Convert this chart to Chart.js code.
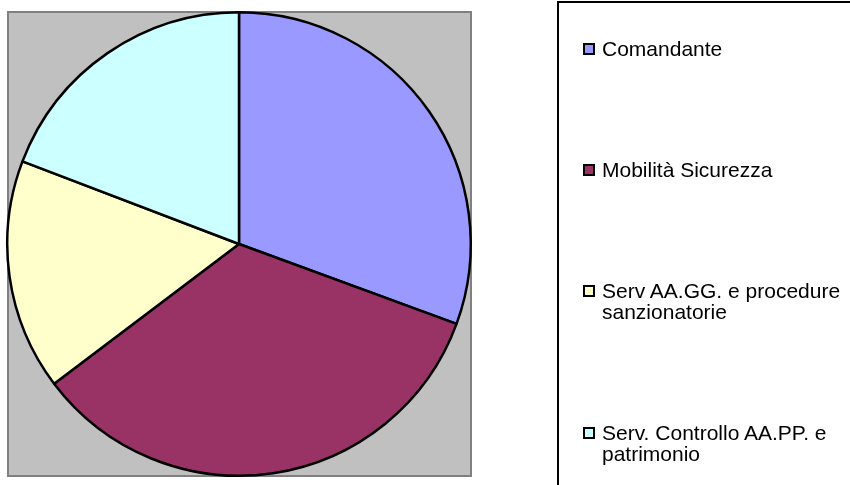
<!DOCTYPE html>
<html>
<head>
<meta charset="utf-8">
<script src="https://cdn.jsdelivr.net/npm/chart.js@4"></script>
<style>
  body { margin: 0; background: #fff; }
  #wrap { position: relative; width: 850px; height: 485px; overflow: hidden; }
  #pie { position: absolute; left: 0; top: 0; }
  #legend {
    position: absolute; left: 557px; top: 1px; width: 320px; height: 500px;
    border: 2px solid #000; box-sizing: border-box; padding-top: 35px;
    font-family: "Liberation Sans", Arial, sans-serif; font-size: 21px; color: #000;
  }
  .item { display: flex; align-items: flex-start; margin-left: 24px; margin-bottom: 100px; line-height: 21px; }
  .box { width: 8px; height: 8px; border: 2px solid #000; margin-top: 5px; margin-right: 7px; flex: none; }
  .txt { width: 245px; }
</style>
</head>
<body>
<div id="wrap">
  <canvas id="pie" width="850" height="485"></canvas>
  <div id="legend"></div>
</div>
<script>
  const categories = [
    "Comandante",
    "Mobilità Sicurezza",
    "Serv AA.GG. e procedure sanzionatorie",
    "Serv. Controllo AA.PP. e patrimonio"
  ];
  const values = [30.6, 34.1, 16.1, 19.2];
  const colors = ["#9999FF", "#993366", "#FFFFCC", "#CCFFFF"];

  // grey plot area behind the pie
  const plotBackground = {
    id: "plotBackground",
    beforeDraw(chart) {
      const { ctx, chartArea: a } = chart;
      const x = a.left + 2, y = a.top + 1;
      const w = a.right - 1 - x, h = a.bottom - 1 - y;
      ctx.save();
      ctx.fillStyle = "#C0C0C0";
      ctx.fillRect(x, y, w, h);
      ctx.strokeStyle = "#808080";
      ctx.lineWidth = 2;
      ctx.strokeRect(x, y, w, h);
      ctx.restore();
    }
  };

  new Chart(document.getElementById("pie"), {
    type: "pie",
    data: {
      labels: categories,
      datasets: [{
        data: values,
        backgroundColor: colors,
        borderColor: "#000",
        borderWidth: 2.5,
        hoverOffset: 0
      }]
    },
    options: {
      responsive: false,
      animation: false,
      layout: { padding: { left: 6, right: 378, top: 11, bottom: 8 } },
      plugins: { legend: { display: false }, tooltip: { enabled: false } }
    },
    plugins: [plotBackground]
  });

  const legend = document.getElementById("legend");
  categories.forEach((name, i) => {
    const row = document.createElement("div");
    row.className = "item";
    const sq = document.createElement("div");
    sq.className = "box";
    sq.style.background = colors[i];
    const t = document.createElement("div");
    t.className = "txt";
    t.textContent = name;
    row.appendChild(sq);
    row.appendChild(t);
    legend.appendChild(row);
  });
</script>
</body>
</html>
